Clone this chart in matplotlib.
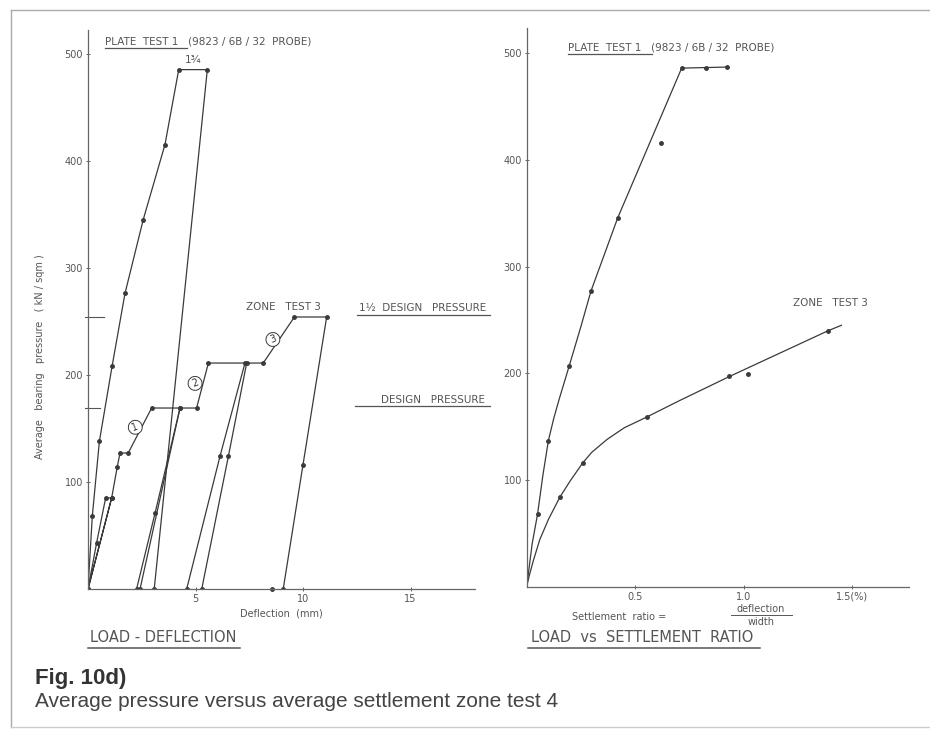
import matplotlib
matplotlib.use("Agg")
import matplotlib.pyplot as plt
from matplotlib.lines import Line2D

W, H = 930, 729
INK = "#3a3a3a"
TXT = "#555555"

# ---- left panel: load - deflection (mm, kN/sqm) ----
plate_defl = [0, 0.2, 0.53, 1.12, 1.72, 2.57, 3.58, 4.22, 5.55, 3.08]
plate_load = [0, 68, 138, 208, 276, 345, 415, 485, 485, 0]

zone_defl = [0, 0.4, 0.82, 1.10, 0, 1.10, 1.36, 1.49, 1.87, 2.96, 5.05, 5.6, 8.15, 9.6, 11.1, 10.0, 9.08]
zone_load = [0, 43, 85, 85, 0, 85, 114, 127, 127, 169, 169, 211, 211, 254, 254, 116, 0]

cycle1_unload_defl = [4.28, 3.12, 2.26]
cycle1_unload_load = [169, 71, 0]
cycle1_reload_defl = [2.42, 4.28]
cycle1_reload_load = [0, 169]
cycle2_unload_defl = [7.3, 6.14, 4.59]
cycle2_unload_load = [211, 124, 0]
cycle2_reload_defl = [5.29, 6.53, 7.38]
cycle2_reload_load = [0, 124, 211]
residual_defl = [8.54]
residual_load = [0]

design_pressure = 169
design_pressure_15 = 254

# ---- right panel: load vs settlement ratio (%) ----
plate_ratio = [0.05, 0.10, 0.196, 0.296, 0.42, 0.617, 0.714, 0.826, 0.924]
plate_ratio_load = [68, 137, 207, 277, 346, 416, 486, 486, 487]
plate_fit_ratio = [0, 0.01, 0.025, 0.05, 0.075, 0.10, 0.125, 0.15, 0.196, 0.25, 0.296, 0.42, 0.714, 0.924]
plate_fit_load = [0, 16, 40, 68, 105, 137, 158, 176, 207, 244, 277, 346, 486, 487]

zone_ratio = [0.153, 0.258, 0.553, 0.934, 1.02, 1.39]
zone_ratio_load = [84, 116, 159, 197, 199, 240]
zone_fit_ratio = [0, 0.01, 0.03, 0.06, 0.1, 0.153, 0.2, 0.258, 0.3, 0.37, 0.45, 0.553, 0.7, 0.934, 1.39, 1.45]
zone_fit_load = [0, 9, 24, 44, 63, 84, 99, 116, 126, 138, 149, 159, 174, 197, 240, 245]


def fx(px):
    return px / W


def fy(py):
    return 1 - py / H


def style_axes(ax):
    for s in ("top", "right"):
        ax.spines[s].set_visible(False)
    for s in ("left", "bottom"):
        ax.spines[s].set_color("#666666")
        ax.spines[s].set_linewidth(0.9)
    ax.tick_params(colors="#666666", labelcolor=TXT, labelsize=7,
                   length=3, width=0.7, direction="inout", pad=2)


fig = plt.figure(figsize=(9.3, 7.29), dpi=100)
fig.patch.set_facecolor("white")

# frame lines of the scan
fig.add_artist(Line2D([fx(11), fx(11)], [fy(10), fy(727)], color="#aaaaaa", lw=1))
fig.add_artist(Line2D([fx(11), 1], [fy(10), fy(10)], color="#aaaaaa", lw=1))
fig.add_artist(Line2D([fx(11), 1], [fy(727), fy(727)], color="#cccccc", lw=1))

# ---------------- left axes ----------------
ax1 = fig.add_axes([fx(88), fy(589), 387 / W, (589 - 30) / H])
ax1.set_xlim(0, 18)
ax1.set_ylim(0, 522)
style_axes(ax1)
ax1.set_xticks([5, 10, 15])
ax1.set_yticks([100, 200, 300, 400, 500])

mk = dict(color=INK, lw=0.9, marker="o", ms=2.5)
ax1.plot(plate_defl, plate_load, **mk)
ax1.plot(zone_defl, zone_load, **mk)
ax1.plot(cycle1_unload_defl, cycle1_unload_load, **mk)
ax1.plot(cycle1_reload_defl, cycle1_reload_load, **mk)
ax1.plot(cycle2_unload_defl, cycle2_unload_load, **mk)
ax1.plot(cycle2_reload_defl, cycle2_reload_load, **mk)
ax1.plot(residual_defl, residual_load, "o", color=INK, ms=2.5, clip_on=False)

for lvl, xe in ((design_pressure_15, 0.75), (design_pressure, 0.58)):
    ax1.plot([-0.15, xe], [lvl, lvl], color="#555555", lw=0.8, clip_on=False)

circ = dict(boxstyle="circle,pad=0.2", fc="white", ec=INK, lw=0.7)
for label, x, y in (("1", 2.2, 151), ("2", 4.98, 192), ("3", 8.6, 233)):
    ax1.text(x, y, label, fontsize=7, color=INK, ha="center", va="center",
             rotation=20, bbox=circ)
ax1.text(4.9, 489, "1\u00be", fontsize=7.5, color=TXT, ha="center", va="bottom")

ax1.set_ylabel("Average   bearing   pressure   ( kN / sqm )", fontsize=7,
               color=TXT)
ax1.yaxis.set_label_coords(-0.111, 0.415)
ax1.set_xlabel("Deflection  (mm)", fontsize=7, color=TXT, labelpad=3)

# ---------------- right axes ----------------
ax2 = fig.add_axes([fx(526.7), fy(586.7), 382 / W, (586.7 - 28) / H])
ax2.set_xlim(0, 1.76)
ax2.set_ylim(0, 523.6)
style_axes(ax2)
ax2.set_xticks([0.5, 1.0, 1.5])
ax2.set_xticklabels(["0.5", "1.0", "1.5(%)"])
ax2.set_yticks([100, 200, 300, 400, 500])

ax2.plot(plate_fit_ratio, plate_fit_load, color=INK, lw=0.9)
ax2.plot(plate_ratio, plate_ratio_load, "o", color=INK, ms=2.5)
ax2.plot(zone_fit_ratio, zone_fit_load, color=INK, lw=0.9)
ax2.plot(zone_ratio, zone_ratio_load, "o", color=INK, ms=2.5)

# ---------------- annotation text ----------------
small = dict(fontsize=7.5, color=TXT, va="center")


def underline(x0, x1, y, lw=0.9):
    fig.add_artist(Line2D([fx(x0), fx(x1)], [fy(y), fy(y)], color="#555555", lw=lw))


fig.text(fx(105), fy(41), "PLATE  TEST 1   (9823 / 6B / 32  PROBE)", **small)
underline(105, 187, 48)
fig.text(fx(568), fy(47), "PLATE  TEST 1   (9823 / 6B / 32  PROBE)", **small)
underline(568, 652, 54)

fig.text(fx(246), fy(307), "ZONE   TEST 3", **small)
fig.text(fx(793), fy(303), "ZONE   TEST 3", **small)

fig.text(fx(359), fy(308), "1\u00bd  DESIGN   PRESSURE", **small)
underline(357, 490, 315)
fig.text(fx(381), fy(400), "DESIGN   PRESSURE", **small)
underline(355, 490, 406)

fig.text(fx(572), fy(617), "Settlement  ratio =", fontsize=7, color=TXT, va="center")
fig.text(fx(761), fy(609), "deflection", fontsize=7, color=TXT, ha="center", va="center")
underline(731, 792, 615, lw=0.7)
fig.text(fx(761), fy(622), "width", fontsize=7, color=TXT, ha="center", va="center")

fig.text(fx(90), fy(638), "LOAD - DEFLECTION", fontsize=10.5, color=TXT, va="center")
underline(88, 240, 648, lw=1.1)
fig.text(fx(531), fy(638), "LOAD  vs  SETTLEMENT  RATIO", fontsize=10.5, color=TXT, va="center")
underline(528, 760, 648, lw=1.1)

fig.text(fx(35), fy(684), "Fig. 10d)", fontsize=16, fontweight="bold",
         family="Liberation Sans", color="#333333", va="baseline")
fig.text(fx(35), fy(707), "Average pressure versus average settlement zone test 4",
         fontsize=15, family="Liberation Sans", color="#444444", va="baseline")

fig.savefig("out.png", dpi=100)
